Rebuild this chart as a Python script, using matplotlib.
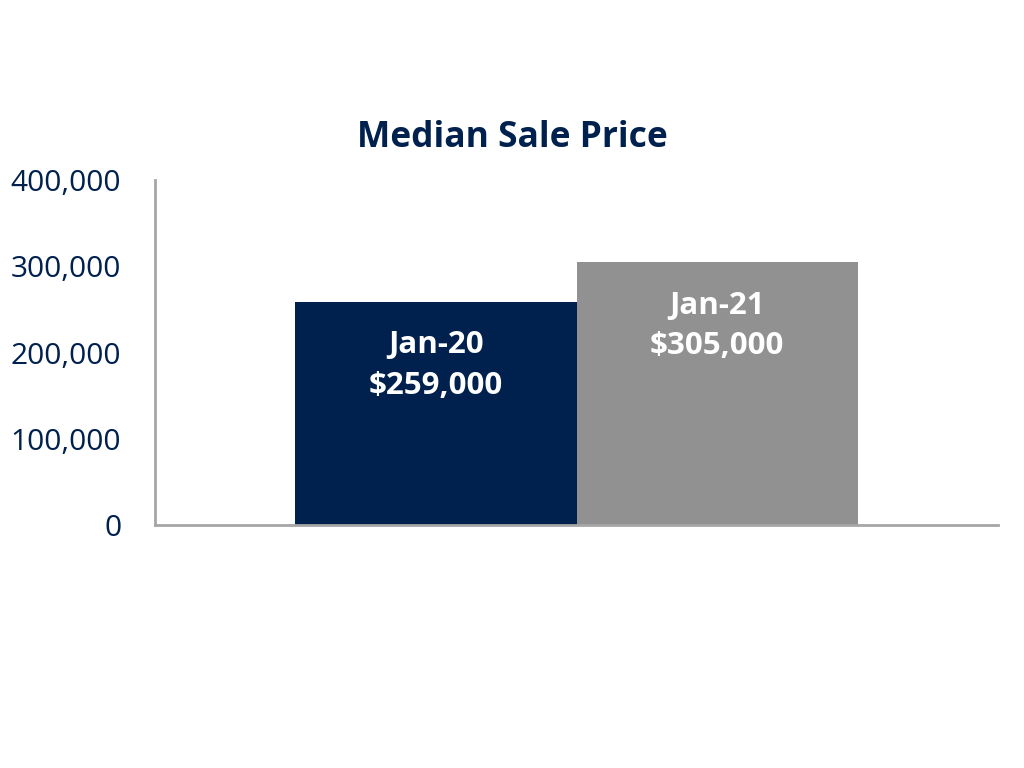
import matplotlib.pyplot as plt

periods = ["Jan-20", "Jan-21"]
prices = [259000, 305000]
bar_colors = ["#00204e", "#919191"]
y_ticks = [0, 100000, 200000, 300000, 400000]

navy = "#00204e"
plt.rcParams['font.family'] = ['Open Sans', 'DejaVu Sans']

fig = plt.figure(figsize=(10.24, 7.68), dpi=100)
ax = fig.add_axes([0.151, 0.316, 0.824, 0.45])

x = list(range(len(periods)))
bars = ax.bar(x, prices, width=1.0, color=bar_colors)

for xi, p, lab in zip(x, prices, periods):
    ax.annotate(f"{lab}\n${p:,.0f}", xy=(xi, p), xytext=(0, -46),
                textcoords="offset points", ha="center", va="center",
                color="white", fontsize=22.5, fontweight="bold", linespacing=1.45)

ax.set_xlim(-1.0, 2.0)
ax.set_ylim(0, 400000)
ax.set_yticks(y_ticks)
ax.set_yticklabels([f"{t:,}" for t in y_ticks])
ax.set_xticks([])
ax.tick_params(axis="y", length=0, labelsize=21.5, labelcolor=navy, pad=24)

for s in ["top", "right"]:
    ax.spines[s].set_visible(False)
for s in ["left", "bottom"]:
    ax.spines[s].set_color("#a6a6a6")
    ax.spines[s].set_linewidth(2)

fig.text(0.5, 0.82, "Median Sale Price", ha="center", va="center",
         fontsize=25.5, fontweight="bold", color=navy)

fig.savefig("out.png", dpi=100)
